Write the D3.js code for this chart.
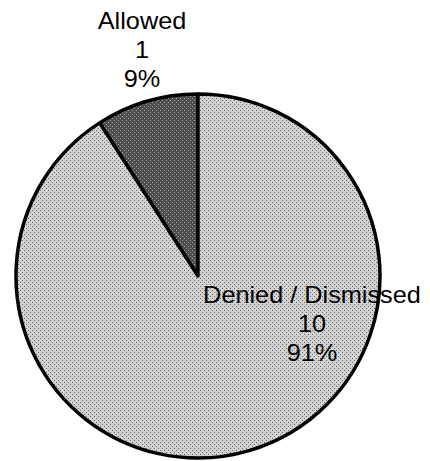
<!DOCTYPE html>
<html>
<head>
<meta charset="utf-8">
<script src="https://cdn.jsdelivr.net/npm/d3@7"></script>
<style>
  body { margin: 0; background: #fff; }
  text { font-family: "Liberation Sans", Arial, sans-serif; fill: #000; }
</style>
</head>
<body>
<div id="chart"></div>
<script>
// data
var categories = ["Allowed", "Denied / Dismissed"];
var counts = [1, 10];
var percents = ["9%", "91%"];

var svgWidth = 430, svgHeight = 461;
var cx = 198, cy = 276, radius = 182;

var svg = d3.select("#chart")
            .append("svg")
            .attr("width", svgWidth)
            .attr("height", svgHeight);

// scanned-look fills
var defs = svg.append("defs");
function dither(id, base, dot) {
    var p = defs.append("pattern")
        .attr("id", id)
        .attr("width", 4).attr("height", 4)
        .attr("patternUnits", "userSpaceOnUse");
    p.append("rect").attr("width", 4).attr("height", 4).attr("fill", base);
    p.append("rect").attr("x", 0).attr("y", 0).attr("width", 1).attr("height", 1).attr("fill", dot);
    p.append("rect").attr("x", 2).attr("y", 2).attr("width", 1).attr("height", 1).attr("fill", dot);
}
dither("lightFill", "#d2d2d2", "#6a6a6a");
dither("darkFill", "#4e4e4e", "#a0a0a0");

var color = d3.scaleOrdinal()
    .domain(categories)
    .range(["url(#darkFill)", "url(#lightFill)"]);

var data = categories.map(function(c, i) {
    return { name: c, value: counts[i], pct: percents[i] };
});

// first slice goes counter-clockwise from 12 o'clock
var pie = d3.pie()
    .value(d => d.value)
    .sort(null)
    .startAngle(-2 * Math.PI * counts[0] / d3.sum(counts))
    .endAngle(2 * Math.PI - 2 * Math.PI * counts[0] / d3.sum(counts));

var arc = d3.arc().innerRadius(0).outerRadius(radius);

var pieGroup = svg.append("g")
    .attr("transform", `translate(${cx},${cy})`);

pieGroup.selectAll("path")
    .data(pie(data))
    .enter()
    .append("path")
        .attr("d", arc)
        .attr("fill", d => color(d.data.name))
        .attr("stroke", "#000")
        .attr("stroke-width", 3.5)
        .attr("stroke-linejoin", "round");

// label anchors (middle line), relative to the pie center
var labelOffsets = [[-56, -218], [114, 56]];
var lineGap = 29.5;

var labels = svg.append("g");
data.forEach(function(d, i) {
    var lx = cx + labelOffsets[i][0];
    var ly = cy + labelOffsets[i][1];
    var t = labels.append("text")
        .attr("text-anchor", "middle")
        .attr("font-size", 23)
        .attr("transform", `translate(${lx},${ly}) scale(1.1,1)`);
    [d.name, String(d.value), d.pct].forEach(function(line, k) {
        t.append("tspan")
            .attr("x", 0)
            .attr("y", (k - 1) * lineGap)
            .text(line);
    });
});
</script>
</body>
</html>
